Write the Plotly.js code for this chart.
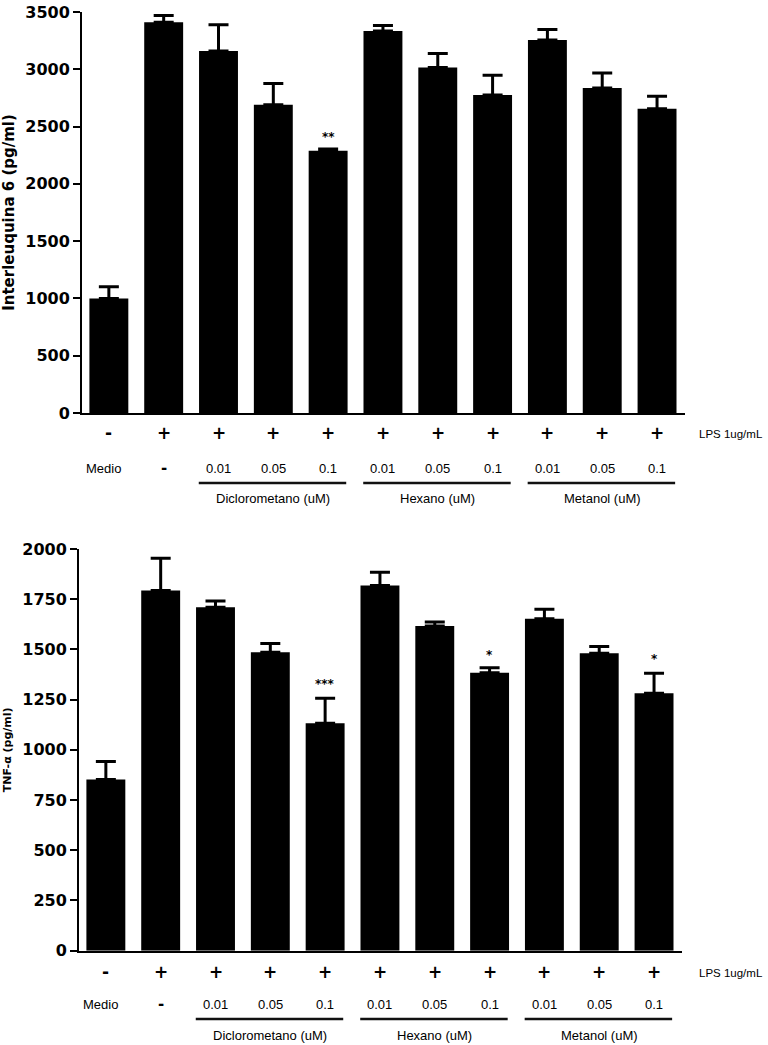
<!DOCTYPE html>
<html>
<head>
<meta charset="utf-8">
<script src="https://cdn.plot.ly/plotly-3.0.1.min.js"></script>
<style>html,body{margin:0;padding:0;background:#fff;}#chart{width:768px;height:1045px;}</style>
</head>
<body>
<div id="chart"></div>
<script>
// ---- data ----
const categories = ['Medio', 'LPS', 'Diclorometano 0.01', 'Diclorometano 0.05', 'Diclorometano 0.1',
  'Hexano 0.01', 'Hexano 0.05', 'Hexano 0.1', 'Metanol 0.01', 'Metanol 0.05', 'Metanol 0.1'];
const il6Values = [1000, 3410, 3160, 2690, 2290, 3335, 3015, 2775, 3255, 2836, 2655];
const il6Errors = [102, 60, 229, 186, 14, 48, 122, 174, 93, 131, 110];
const tnfValues = [852, 1793, 1710, 1486, 1132, 1818, 1617, 1384, 1653, 1481, 1282];
const tnfErrors = [90, 161, 31, 43, 125, 66, 20, 25, 47, 33, 99];
const lpsLabels = ['-', '+', '+', '+', '+', '+', '+', '+', '+', '+', '+'];
const doseLabels = ['Medio', '-', '0.01', '0.05', '0.1', '0.01', '0.05', '0.1', '0.01', '0.05', '0.1'];
const groups = [
  {name: 'Diclorometano (uM)', first: 2, last: 4},
  {name: 'Hexano (uM)', first: 5, last: 7},
  {name: 'Metanol (uM)', first: 8, last: 10}
];
const il6Stars = [{i: 4, text: '**', y: 2410}];
const tnfStars = [{i: 4, text: '***', y: 1328}, {i: 7, text: '*', y: 1470}, {i: 10, text: '*', y: 1450}];

// ---- layout helpers ----
const H = 1045, W = 768;
const py = p => (H - p) / H;
const tickFont = {family: 'DejaVu Sans', size: 16, color: '#000', weight: 'bold'};
const narrow = {family: 'Liberation Sans Narrow, Arial Narrow, Liberation Sans, Arial', size: 13, color: '#000'};

function barTrace(vals, errs, xa, ya) {
  return {
    type: 'bar', x: categories, y: vals, xaxis: xa, yaxis: ya,
    marker: {color: '#000', line: {width: 0}},
    width: 0.71,
    error_y: {type: 'data', symmetric: false, array: errs, arrayminus: errs.map(() => 0),
      color: '#000', thickness: 3, width: 10},
    hoverinfo: 'x+y', showlegend: false
  };
}

const annotations = [];
const shapes = [];
function rows(xref, plusY, doseY, lineY, groupY, stars, yref) {
  lpsLabels.forEach((t, i) => annotations.push({
    xref: xref, yref: 'paper', x: i, y: py(plusY), text: t, showarrow: false,
    font: {family: 'DejaVu Sans', size: 17, color: '#000', weight: 'bold'}, xanchor: 'center', yanchor: 'middle'
  }));
  annotations.push({xref: 'paper', yref: 'paper', x: 765 / W, y: py(plusY + 1), text: 'LPS 1ug/mL',
    showarrow: false, font: Object.assign({}, narrow, {size: 11.5}), xanchor: 'right', yanchor: 'middle'});
  doseLabels.forEach((t, i) => annotations.push({
    xref: xref, yref: 'paper', x: i, y: py(doseY), text: t, showarrow: false,
    xshift: i === 0 ? -5 : 0,
    font: t === '-' ? {family: 'DejaVu Sans', size: 15, color: '#000', weight: 'bold'} : narrow,
    xanchor: 'center', yanchor: 'middle'
  }));
  groups.forEach(g => {
    shapes.push({type: 'line', xref: xref, yref: 'paper', x0: g.first - 0.36, x1: g.last + 0.33,
      y0: py(lineY), y1: py(lineY), line: {color: '#111', width: 2.5}});
    annotations.push({xref: xref, yref: 'paper', x: (g.first + g.last) / 2, y: py(groupY), text: g.name,
      showarrow: false, font: narrow, xanchor: 'center', yanchor: 'middle'});
  });
  stars.forEach(s => annotations.push({
    xref: xref, yref: yref, x: s.i, y: s.y, text: s.text, showarrow: false,
    font: {family: 'DejaVu Sans', size: 12, color: '#000', weight: 'bold'}, xanchor: 'center', yanchor: 'middle'
  }));
}
rows('x', 433, 468, 483, 499, il6Stars, 'y');
rows('x2', 972, 1004, 1019, 1035, tnfStars, 'y2');

const xBase = {showline: true, linewidth: 2, linecolor: '#000', ticks: '', showticklabels: false,
  showgrid: false, zeroline: false, fixedrange: true, type: 'category', range: [-0.49, 10.51]};
const yBase = {showline: true, linewidth: 2, linecolor: '#000', ticks: 'outside', ticklen: 7, tickwidth: 2,
  tickcolor: '#000', showgrid: false, zeroline: false, tickfont: tickFont, fixedrange: true, automargin: false};

const layout = {
  width: W, height: H,
  margin: {l: 0, r: 0, t: 0, b: 0},
  paper_bgcolor: '#fff', plot_bgcolor: '#fff',
  bargap: 0.29,
  xaxis: Object.assign({}, xBase, {domain: [82 / W, 685 / W], anchor: 'y'}),
  yaxis: Object.assign({}, yBase, {domain: [py(413), py(12)], anchor: 'x', range: [0, 3500], dtick: 500, tick0: 0,
    title: {text: 'Interleuquina 6 (pg/ml)', font: {family: 'DejaVu Sans', size: 15, color: '#000', weight: 'bold'}, standoff: 8}}),
  xaxis2: Object.assign({}, xBase, {domain: [79 / W, 682 / W], anchor: 'y2'}),
  yaxis2: Object.assign({}, yBase, {domain: [py(950.7), py(549)], anchor: 'x2', range: [0, 2000], dtick: 250, tick0: 0,
    title: {text: 'TNF-α (pg/ml)', font: {family: 'DejaVu Sans', size: 11, color: '#000', weight: 'bold'}, standoff: 8}}),
  annotations: annotations,
  shapes: shapes
};

Plotly.newPlot('chart', [
  barTrace(il6Values, il6Errors, 'x', 'y'),
  barTrace(tnfValues, tnfErrors, 'x2', 'y2')
], layout, {displayModeBar: false, staticPlot: true});
</script>
</body>
</html>
